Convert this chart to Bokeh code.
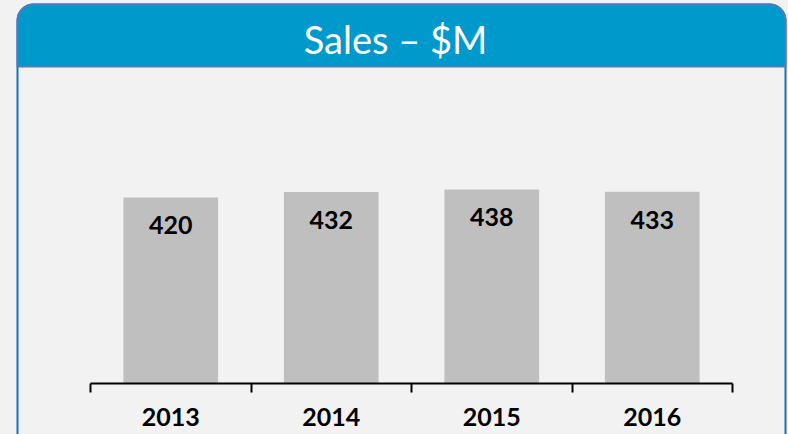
from bokeh.plotting import figure
from bokeh.models import (ColumnDataSource, Range1d, LinearAxis, FixedTicker,
                          LabelSet, Label, BoxAnnotation, GlobalInlineStyleSheet)
from bokeh.core.properties import value
from bokeh.embed import file_html
from bokeh.resources import INLINE

# ---- data ----
years = ["2013", "2014", "2015", "2016"]
sales = [420, 432, 438, 433]
title_text = "Sales – $M"

# category slots: centre of slot i is i + 0.5, slot edges are 0..n
n = len(years)
centers = [i + 0.5 for i in range(n)]
edges = list(range(n + 1))

src = ColumnDataSource(dict(x=centers, year=years, sales=sales,
                            label=[str(v) for v in sales]))

FONT = "Lato"

# frame covers the whole canvas; ranges chosen so slot 0..n spans px 90..732
# and value 0 sits at px 383 from the top
W, H = 788, 434
PX_X = (732 - 90) / n
PX_Y = 0.443
p = figure(width=W, height=H,
           x_range=Range1d(-90 / PX_X, n + (W - 732) / PX_X),
           y_range=Range1d(-(H - 383) / PX_Y, 383 / PX_Y),
           output_backend="svg", toolbar_location=None,
           x_axis_location=None, y_axis_location=None,
           min_border=0,
           background_fill_color="#F2F2F2", border_fill_color="#F2F2F2",
           outline_line_color=None)
p.grid.visible = False
p.stylesheets = [GlobalInlineStyleSheet(
    css="html,body{margin:0;padding:0;background:#F2F2F2;overflow:hidden;}")]

# panel body (outline only) and header
body = BoxAnnotation(left=17, right=785, top=4, bottom=460,
                     left_units="canvas", right_units="canvas",
                     top_units="canvas", bottom_units="canvas",
                     fill_alpha=0,
                     line_color="#1570BE", line_width=2, line_alpha=1,
                     border_radius=(16, 16, 0, 0), level="underlay")
header = BoxAnnotation(left=17, right=785, top=4, bottom=66,
                       left_units="canvas", right_units="canvas",
                       top_units="canvas", bottom_units="canvas",
                       fill_color="#0099CC", fill_alpha=1,
                       line_color="#4F7CC0", line_width=2, line_alpha=1,
                       border_radius=(16, 16, 0, 0), level="underlay")
p.add_layout(body)
p.add_layout(header)

p.add_layout(Label(x=395, y=38, x_units="canvas", y_units="canvas",
                   text=title_text, text_color="white",
                   text_font=FONT, text_font_size="38px",
                   text_align="center", text_baseline="middle"))

# x axis at value 0: labels at slot centres, tick marks at slot edges
xaxis = LinearAxis(fixed_location=0, bounds=(0, n),
                   ticker=FixedTicker(ticks=centers, minor_ticks=edges),
                   major_label_overrides={c: y for c, y in zip(centers, years)},
                   major_tick_in=0, major_tick_out=0,
                   minor_tick_in=0, minor_tick_out=9,
                   axis_line_color="black", axis_line_width=2,
                   major_tick_line_color=None,
                   minor_tick_line_color="black", minor_tick_line_width=2,
                   major_label_text_font=FONT,
                   major_label_text_font_style="bold",
                   major_label_text_font_size="25px",
                   major_label_text_color="black",
                   major_label_standoff=15)
p.add_layout(xaxis, "below")

p.vbar(x="x", top="sales", width=0.59, source=src,
       fill_color="#BFBFBF", line_color=None)

p.add_layout(LabelSet(x="x", y="sales", text="label", source=src,
                      y_offset=-28, text_align="center", text_baseline="middle",
                      text_font=value(FONT), text_font_style="bold",
                      text_font_size="25px", text_color="black"))

open("out.html", "w").write(file_html(p, INLINE))
